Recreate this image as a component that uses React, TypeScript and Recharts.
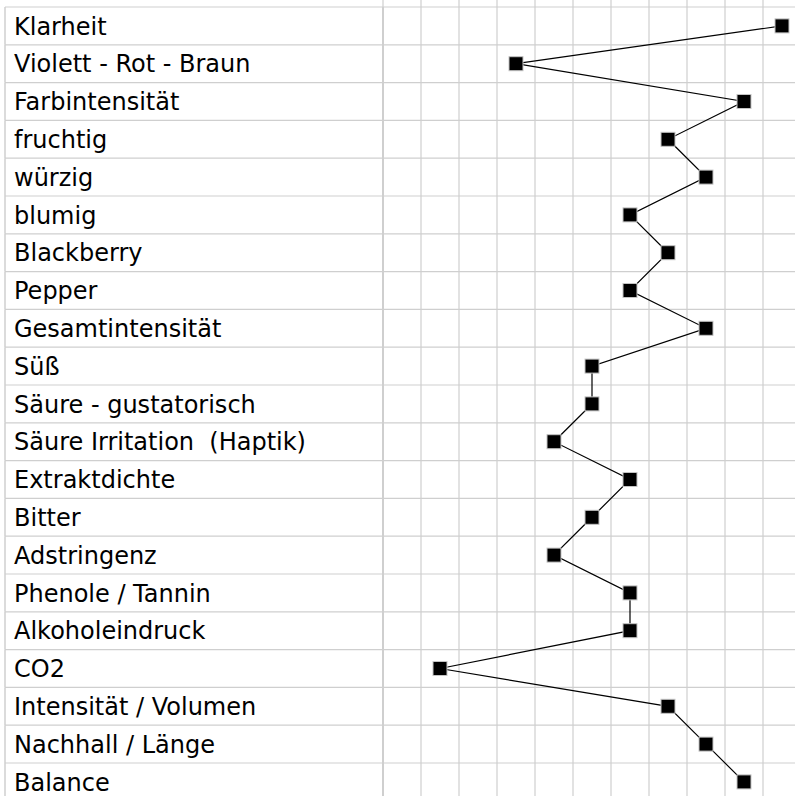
import { CartesianGrid, Scatter, ScatterChart, XAxis, YAxis } from "recharts";

// sensory attributes, top to bottom
const ATTRIBUTES = [
  "Klarheit",
  "Violett - Rot - Braun",
  "Farbintensität",
  "fruchtig",
  "würzig",
  "blumig",
  "Blackberry",
  "Pepper",
  "Gesamtintensität",
  "Süß",
  "Säure - gustatorisch",
  "Säure Irritation  (Haptik)",
  "Extraktdichte",
  "Bitter",
  "Adstringenz",
  "Phenole / Tannin",
  "Alkoholeindruck",
  "CO2",
  "Intensität / Volumen",
  "Nachhall / Länge",
  "Balance",
];

// score per attribute (one grid column = one point)
const SCORES = [10, 3, 9, 7, 8, 6, 7, 6, 8, 5, 5, 4, 6, 5, 4, 6, 6, 1, 7, 8, 9];

const SCALE_MIN = 0;
const SCALE_MAX = 10;

const GRID = "#cfcfcf";
const CHART_W = 801;
const CHART_H = 810;
const TOP = 7;
const ROW_H = 37.8;
const LABEL_LEFT = 5;
const LABEL_W = 378;
const PLOT_H = ROW_H * ATTRIBUTES.length;

const data = ATTRIBUTES.map((name, i) => ({ name, score: SCORES[i], row: i + 0.5 }));

// row boundaries drive both the grid lines and the label positions
const rowEdges = Array.from({ length: ATTRIBUTES.length + 1 }, (_, i) => i);
const colEdges = Array.from(
  { length: SCALE_MAX - SCALE_MIN + 2 },
  (_, i) => SCALE_MIN - 0.5 + i
);

function RowLabel(props: any) {
  const { y, payload } = props;
  const name = ATTRIBUTES[payload.value];
  if (!name) return <g />;
  return (
    <g>
      <line
        x1={LABEL_LEFT}
        x2={LABEL_LEFT}
        y1={y}
        y2={y + ROW_H}
        stroke={GRID}
        strokeWidth={1.5}
      />
      <text
        x={14}
        y={y + ROW_H / 2 + 8.6}
        textAnchor="start"
        fontFamily="DejaVu Sans"
        fontSize={24}
        fill="#000"
        xmlSpace="preserve"
        style={{ whiteSpace: "pre" }}
      >
        {name}
      </text>
    </g>
  );
}

function Marker(props: any) {
  const { cx, cy } = props;
  return (
    <rect
      x={cx - 7}
      y={cy - 7}
      width={14}
      height={14}
      fill="#000"
      stroke="#c4c4c4"
      strokeWidth={1}
    />
  );
}

export default function App() {
  return (
    <div
      style={{
        position: "absolute",
        left: 0,
        top: 0,
        width: 795,
        height: 796,
        overflow: "hidden",
        background: "#fff",
      }}
    >
      <ScatterChart
        width={CHART_W}
        height={CHART_H}
        margin={{ top: TOP, right: 0, bottom: CHART_H - TOP - PLOT_H, left: LABEL_LEFT }}
      >
        <CartesianGrid
          vertical={false}
          x={LABEL_LEFT}
          width={CHART_W}
          stroke={GRID}
          strokeWidth={1.2}
        />
        <CartesianGrid
          horizontal={false}
          y={0}
          height={TOP + PLOT_H}
          stroke={GRID}
          strokeWidth={1.2}
        />
        <XAxis
          type="number"
          dataKey="score"
          domain={[SCALE_MIN - 0.5, SCALE_MAX + 0.5]}
          ticks={colEdges}
          interval={0}
          hide
        />
        <YAxis
          type="number"
          dataKey="row"
          domain={[0, ATTRIBUTES.length]}
          ticks={rowEdges}
          interval={0}
          reversed
          width={LABEL_W}
          tickLine={false}
          axisLine={{ stroke: GRID, strokeWidth: 2 }}
          tick={<RowLabel />}
        />
        <Scatter
          data={data}
          line={{ stroke: "#000", strokeWidth: 1.2 }}
          lineType="joint"
          shape={<Marker />}
          isAnimationActive={false}
        />
      </ScatterChart>
    </div>
  );
}
